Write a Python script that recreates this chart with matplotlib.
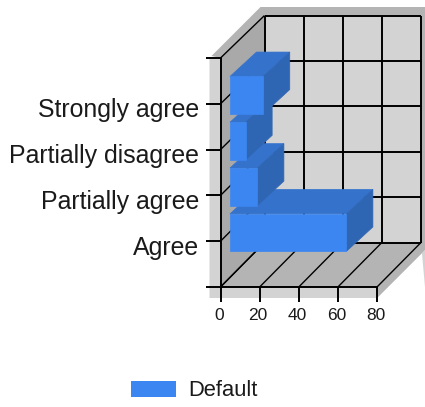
import matplotlib
matplotlib.use('Agg')
import matplotlib.pyplot as plt
from matplotlib.patches import Patch, Polygon
from matplotlib.transforms import ScaledTranslation

categories = ['Agree', 'Partially agree', 'Partially disagree', 'Strongly agree']
values = [59.5, 14, 8, 17]
x_ticks = [0, 20, 40, 60, 80]
series_name = 'Default'

W, H = 425, 407
LEFT, RIGHT, TOP, BOTTOM = 220.5, 377, 58, 287
WALL_DX, WALL_DY = 44, 44.5
BAR_FRONT = (9.5, 8.6)
BAR_BACK = (36, 33)
BAR_H = 37.5

plt.rcParams['font.family'] = ['Liberation Sans', 'DejaVu Sans']

fig = plt.figure(figsize=(W / 100, H / 100), dpi=100)
ax = fig.add_axes([LEFT / W, 1 - BOTTOM / H, (RIGHT - LEFT) / W, (BOTTOM - TOP) / H])
ax.patch.set_visible(False)
ax.set_xlim(0, 80)
y_slots = len(categories) + 1
ax.set_ylim(0, y_slots)

ux = 80 / (RIGHT - LEFT)   # data units per pixel
uy = y_slots / (BOTTOM - TOP)


def poly(points, color, z, edge=False):
    ax.add_patch(Polygon(points, closed=True, facecolor=color,
                         edgecolor=color if edge else 'none', linewidth=0.5 if edge else 0,
                         clip_on=False, zorder=z))


def off(x, y, dx_px, dy_px):
    return (x + dx_px * ux, y + dy_px * uy)


def line(p, q, lw=1.4, z=2):
    ax.plot([p[0], q[0]], [p[1], q[1]], color='black', lw=lw, clip_on=False,
            zorder=z, solid_capstyle='butt')


# frame: shadow bands round the box
poly([off(0, 0, -11, -11), off(80, 0, 0, -11), off(80, 0, 48, 37), off(80, 0, 48, 0),
      off(80, 0, WALL_DX, WALL_DY), off(0, 0, 0, 0)], '#d3d3d3', 1)
poly([off(0, 0, -11, -11), off(0, 0, 0, -11), off(0, 0, 0, 0), off(0, y_slots, 0, 0),
      off(0, y_slots, -11, -1)], '#d3d3d3', 1)
poly([off(80, 0, 0, 0), off(80, 0, 0, -11), off(80, 0, 48, 37),
      off(80, y_slots, 48, 51), off(0, y_slots, 40, 51),
      off(0, y_slots, -9, 2), off(0, y_slots, 0, 0),
      off(0, y_slots, WALL_DX, WALL_DY - 2), off(80, y_slots, WALL_DX, WALL_DY - 2),
      off(80, 0, WALL_DX, WALL_DY)], '#b4b4b4', 1)

# walls
poly([off(0, 0, WALL_DX, WALL_DY), off(80, 0, WALL_DX, WALL_DY),
      off(80, y_slots, WALL_DX, WALL_DY - 2), off(0, y_slots, WALL_DX, WALL_DY - 2)], '#d3d3d3', 1.5)
poly([(0, 0), off(0, 0, WALL_DX, WALL_DY), off(0, y_slots, WALL_DX, WALL_DY - 2), (0, y_slots)],
     '#a9a9a9', 1.5)
poly([(0, 0), (80, 0), off(80, 0, WALL_DX, WALL_DY), off(0, 0, WALL_DX, WALL_DY)], '#b4b4b4', 1.5)

# grid lines on back wall, floor and left wall
for t in x_ticks:
    line(off(t, 0, WALL_DX, WALL_DY), off(t, y_slots, WALL_DX, WALL_DY - 2))
    line((t, 0), off(t, 0, WALL_DX, WALL_DY), lw=1.0)
for i in range(y_slots + 1):
    bend = WALL_DY - 2 * i / y_slots
    line(off(0, i, WALL_DX, bend), off(80, i, WALL_DX, bend))
    line((0, i), off(0, i, WALL_DX, bend), lw=1.0)

# bars, bottom one first: each upper bar covers the back of the one below
for i, v in enumerate(values):
    y0 = i + 1 - BAR_H * uy / 2
    y1 = i + 1 + BAR_H * uy / 2
    fx, fy = BAR_FRONT
    bx, by = BAR_BACK
    z = 5 + i * 0.1
    poly([off(0, y1, fx, fy), off(v, y1, fx, fy), off(v, y1, bx, by), off(0, y1, bx, by)], '#3572cc', z, True)
    poly([off(v, y0, fx, fy), off(v, y0, bx, by), off(v, y1, bx, by), off(v, y1, fx, fy)], '#2f66b3', z, True)
    poly([off(0, y0, fx, fy), off(v, y0, fx, fy), off(v, y1, fx, fy), off(0, y1, fx, fy)], '#3b86f0', z, True)

for side in ['top', 'right']:
    ax.spines[side].set_visible(False)
for side in ['left', 'bottom']:
    ax.spines[side].set_linewidth(1.4)
    ax.spines[side].set_zorder(3)

ax.set_xticks(x_ticks)
ax.tick_params(axis='x', length=11, width=1.4, pad=2, labelsize=12.5, labelcolor='#1a1a1a')
ax.set_yticks(range(y_slots + 1))
ax.set_yticklabels([''] + categories + [''])
ax.tick_params(axis='y', length=11, width=1.4, pad=4.5, labelsize=17.9, labelcolor='#1a1a1a')

# labels sit a little below and left of where the ticks would put them
shift_y = ScaledTranslation(0, -4 / 100, fig.dpi_scale_trans)
shift_x = ScaledTranslation(-1.5 / 100, -3 / 100, fig.dpi_scale_trans)
for lab in ax.get_yticklabels():
    lab.set_transform(lab.get_transform() + shift_y)
for lab in ax.get_xticklabels():
    lab.set_transform(lab.get_transform() + shift_x)

fig.legend(handles=[Patch(facecolor='#3b86f0', label=series_name)], loc='center',
           bbox_to_anchor=(194 / W, 1 - 391 / H), frameon=False, fontsize=15.8,
           handlelength=2.05, handleheight=0.74, handletextpad=0.55, labelcolor='#1a1a1a')

fig.savefig('out.png', dpi=100)
